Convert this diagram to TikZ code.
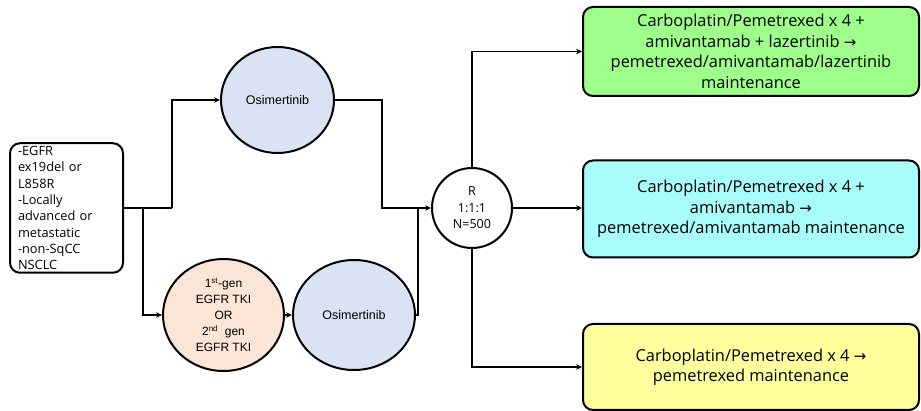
\documentclass[tikz,border=0pt]{standalone}
\usepackage{fontspec}
\setmainfont{Open Sans}
\newfontfamily\arialfont{Liberation Sans}
\newfontfamily\symfont{DejaVu Sans}
\newcommand{\thento}{{\symfont\fontsize{15}{15}\selectfont →}}
\usetikzlibrary{arrows.meta,shapes.geometric}
\definecolor{boxgreen}{HTML}{9EFF8A}
\definecolor{boxcyan}{HTML}{A8FCFC}
\definecolor{boxyellow}{HTML}{FFFF9E}
\definecolor{peach}{HTML}{FBE5D6}
\definecolor{paleblue}{HTML}{DAE3F3}
\begin{document}
\begin{tikzpicture}[x=1pt,y=-1pt,
  conn/.style={line width=1.9pt},
  arr/.style={conn,-{Stealth[length=6pt,width=5.5pt]}},
  armbox/.style={draw,line width=2pt,rounded corners=10pt,minimum width=336pt,
    minimum height=89pt,align=center,inner sep=2pt,
    font=\fontsize{16.4}{20.5}\selectfont},
  drugcirc/.style={draw,ellipse,line width=2pt,inner sep=0pt,
    font=\arialfont\fontsize{12.5}{15}\selectfont,align=center},
  infobox/.style={draw,line width=2pt,rounded corners=10pt,minimum width=113pt,
    minimum height=129pt,align=left,text width=97pt,inner xsep=8pt,inner ysep=3pt,
    font=\fontsize{12.8}{16.3}\selectfont}
]
\useasboundingbox (0,0) rectangle (921,411);

% patient population
\node[infobox] (pt) at (66.5,208) {-EGFR\\ex19del or\\L858R\\-Locally\\advanced or\\metastatic\\-non-SqCC\\NSCLC};

% treatment circles
\node[drugcirc,fill=paleblue,minimum width=113pt,minimum height=106pt] (osi1) at (277.5,100) {Osimertinib};
\node[drugcirc,fill=peach,minimum width=121pt,minimum height=112pt,
  font=\arialfont\fontsize{12}{16}\selectfont] (tki) at (223.5,315)
  {1\textsuperscript{st}-gen\\EGFR TKI\\OR\\2\textsuperscript{nd}\ \ gen\\EGFR TKI};
\node[drugcirc,fill=paleblue,minimum width=122pt,minimum height=110pt] (osi2) at (354,315) {Osimertinib};

% randomisation
\node[draw,circle,line width=2pt,minimum size=80pt,inner sep=0pt,align=center,
  font=\fontsize{12.5}{16.5}\selectfont] (R) at (472,208) {R\\1:1:1\\N=500};

% study arms
\node[armbox,fill=boxgreen] (armA) at (751,51.5) {Carboplatin/Pemetrexed x 4 +\\amivantamab + lazertinib \thento\\pemetrexed/amivantamab/lazertinib\\maintenance};
\node[armbox,fill=boxcyan,minimum height=97pt] (armB) at (751,209) {Carboplatin/Pemetrexed x 4 +\\amivantamab \thento\\pemetrexed/amivantamab maintenance};
\node[armbox,fill=boxyellow,minimum height=86pt] (armC) at (751,367) {Carboplatin/Pemetrexed x 4 \thento\\pemetrexed maintenance};

% junction points
\coordinate (splitA) at (172,208);
\coordinate (splitB) at (143,208);
\coordinate (mergeA) at (382,208);
\coordinate (mergeB) at (418,208);

% connectors
\draw[conn] (pt.east) -- (splitA);
\draw[arr] (splitA) |- (osi1.west);
\draw[arr] (splitB) |- (tki.west);
\draw[arr] (tki.east) -- (osi2.west);
\draw[arr] (osi1.east) -| (mergeA) -- (R.west);
\draw[conn] (osi2.east) -| (mergeB);
\draw[arr] (R.north) |- (armA.west);
\draw[arr] (R.east) -- (armB.west |- R.east);
\draw[arr] (R.south) |- (armC.west);
\end{tikzpicture}
\end{document}
